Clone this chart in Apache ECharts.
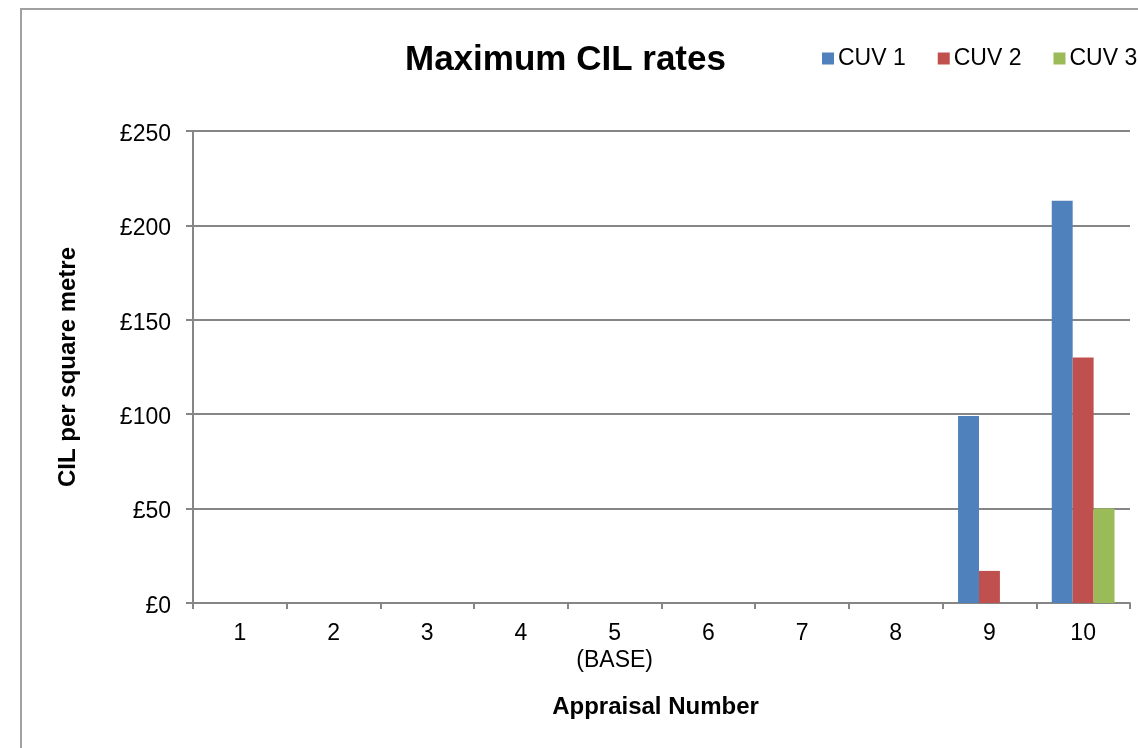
<!DOCTYPE html>
<html>
<head>
<meta charset="utf-8">
<title>Maximum CIL rates</title>
<script src="https://cdn.jsdelivr.net/npm/echarts@6/dist/echarts.min.js"></script>
<style>
  html, body { margin: 0; padding: 0; background: #fff; overflow: hidden; width: 1138px; height: 748px; }
  #chart { position: absolute; left: 0; top: 0; width: 1250px; height: 800px; }
</style>
</head>
<body>
<div id="chart"></div>
<script>
// Appraisal numbers along the x axis
const appraisals = ['1', '2', '3', '4', '5\n(BASE)', '6', '7', '8', '9', '10'];
// Maximum CIL rate (£ per square metre) for each current use value
const cuv1 = [0, 0, 0, 0, 0, 0, 0, 0, 99, 213];
const cuv2 = [0, 0, 0, 0, 0, 0, 0, 0, 17, 130];
const cuv3 = [0, 0, 0, 0, 0, 0, 0, 0, 0, 50];
const seriesNames = ['CUV 1', 'CUV 2', 'CUV 3'];
const yTicks = [0, 50, 100, 150, 200, 250];

const FONT = '"Liberation Sans", Arial, sans-serif';
const GREY = '#868686';

const chart = echarts.init(document.getElementById('chart'), null, { renderer: 'canvas' });

function barSeries(name, data, color) {
  return {
    name: name,
    type: 'bar',
    data: data,
    barGap: '0%',
    barCategoryGap: '33%',
    itemStyle: { color: color },
    emphasis: { disabled: true }
  };
}

chart.setOption({
  animation: false,
  textStyle: { fontFamily: FONT, color: '#000' },
  graphic: [{
    type: 'rect',
    shape: { x: 21, y: 9, width: 1400, height: 1000 },
    style: { fill: null, stroke: '#a0a0a0', lineWidth: 2 },
    silent: true,
    z: 100
  }],
  title: {
    text: 'Maximum CIL rates',
    left: 405,
    top: 43,
    padding: 0,
    textStyle: { fontFamily: FONT, fontSize: 35, fontWeight: 'bold', color: '#000' }
  },
  legend: {
    data: seriesNames,
    left: 822,
    top: 47,
    padding: 0,
    width: 600,
    itemWidth: 12,
    itemHeight: 12,
    itemGap: 32,
    icon: 'rect',
    textStyle: { fontFamily: FONT, fontSize: 23, color: '#000', padding: [2, 0, 0, -1] }
  },
  grid: { left: 193, top: 131, right: 120, bottom: 197, containLabel: false },
  xAxis: {
    type: 'category',
    data: appraisals,
    name: 'Appraisal Number',
    nameLocation: 'middle',
    nameGap: 92,
    nameTextStyle: { fontFamily: FONT, fontSize: 24, fontWeight: 'bold', color: '#000', padding: [0, 12, 0, 0] },
    axisLine: { lineStyle: { color: GREY, width: 2 } },
    axisTick: { show: true, alignWithLabel: false, length: 6, lineStyle: { color: GREY, width: 2 } },
    axisLabel: { fontFamily: FONT, fontSize: 23, color: '#000', margin: 17, lineHeight: 27, interval: 0 },
    splitLine: { show: false }
  },
  yAxis: {
    type: 'value',
    min: yTicks[0],
    max: yTicks[yTicks.length - 1],
    interval: 50,
    name: 'CIL per square metre',
    nameLocation: 'middle',
    nameGap: 113,
    nameRotate: 90,
    nameTextStyle: { fontFamily: FONT, fontSize: 24, fontWeight: 'bold', color: '#000' },
    axisLine: { show: true, lineStyle: { color: GREY, width: 2 } },
    axisTick: { show: true, length: 7, lineStyle: { color: GREY, width: 2 } },
    axisLabel: {
      fontFamily: FONT, fontSize: 23, color: '#000', margin: 22,
      formatter: v => '{v|£' + v + '}',
      rich: {
        v: { fontFamily: FONT, fontSize: 23, color: '#000', padding: [7, 0, 0, 0] }
      }
    },
    splitLine: { show: true, lineStyle: { color: GREY, width: 2 } }
  },
  series: [
    barSeries(seriesNames[0], cuv1, '#4F81BD'),
    barSeries(seriesNames[1], cuv2, '#C0504D'),
    barSeries(seriesNames[2], cuv3, '#9BBB59')
  ]
});
</script>
</body>
</html>
